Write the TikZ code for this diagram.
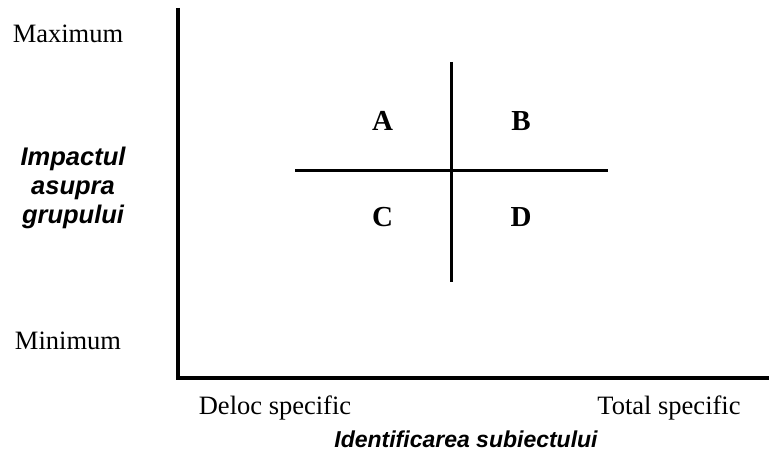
\documentclass[tikz,border=0pt]{standalone}
\usepackage{fontspec}
\setmainfont{Liberation Serif}
\setsansfont{Liberation Sans}
\begin{document}
\begin{tikzpicture}[x=1pt,y=-1pt,
  axis/.style={line width=3.6pt},
  cross/.style={line width=3pt},
  lbl/.style={font=\fontsize{26.5}{30}\selectfont},
  quad/.style={font=\fontsize{29}{30}\selectfont\bfseries},
  title/.style={font=\fontsize{23}{29}\selectfont\sffamily\bfseries\itshape, align=center},
  ytitle/.style={font=\fontsize{25.5}{29}\selectfont\sffamily\bfseries\itshape, align=center}]
\useasboundingbox (0,0) rectangle (769,454);
\coordinate (ytop) at (178,8);
\coordinate (orig) at (178,378);
\coordinate (xend) at (769,378);
\draw[axis] (ytop) -- (orig) -- (xend);
\coordinate (vt) at (451,62);
\coordinate (vb) at (451,282);
\coordinate (hl) at (295,171);
\coordinate (hr) at (608,171);
\draw[cross] (vt) -- (vb);
\draw[cross] (hl) -- (hr);
\node[lbl] (max) at (68,34) {Maximum};
\node[lbl] (min) at (68,341) {Minimum};
\node[quad] (A) at (382.5,121) {A};
\node[quad] (B) at (521,121) {B};
\node[quad] (C) at (382.5,217) {C};
\node[quad] (D) at (521,217) {D};
\node[ytitle] (yt) at (73,188) {Impactul\\asupra\\grupului};
\node[lbl] (d0) at (275,408) {Deloc specific};
\node[lbl] (d1) at (669,408) {Total specific};
\node[title] (xt) at (466,439) {Identificarea subiectului};
\end{tikzpicture}
\end{document}
